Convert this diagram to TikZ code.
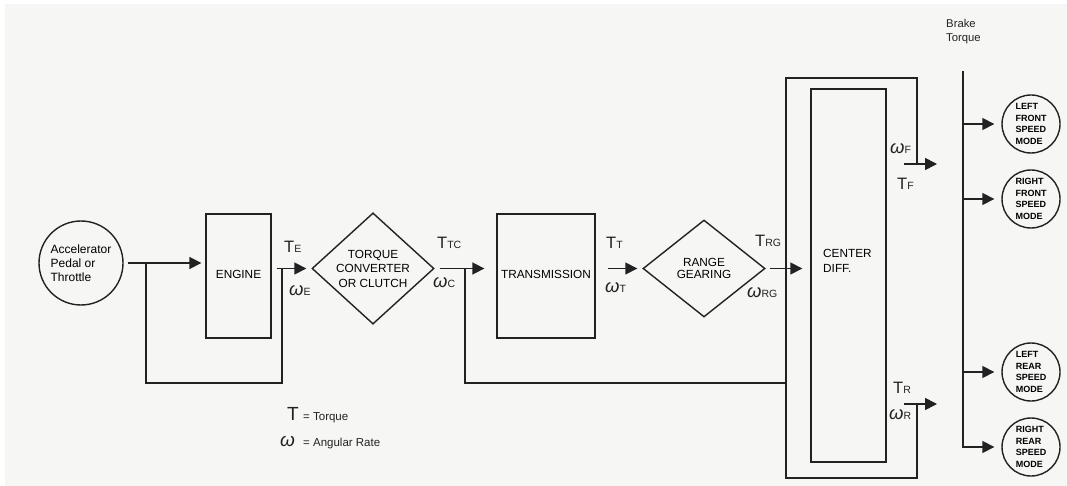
\documentclass[tikz,border=0pt]{standalone}
\usepackage{fontspec}
\setmainfont{Liberation Sans}
\usetikzlibrary{arrows.meta,shapes.geometric}
\definecolor{paper}{HTML}{F6F7F5}
\definecolor{ink}{HTML}{222222}

% signal labels: large symbol with a small capital suffix on the same baseline
\newcommand\sigT[1]{{\fontsize{16.5}{16}\selectfont T}{\fontsize{10.5}{10}\selectfont #1}}
\newcommand\sigW[1]{{\fontsize{18.5}{18}\selectfont\itshape ω}{\fontsize{10.5}{10}\selectfont #1}}

\begin{document}
\begin{tikzpicture}[x=1pt,y=-1pt,
  line/.style={ink, line width=1.6pt},
  arr/.style={line, -{Triangle[length=12pt,width=12pt]}},
  blockbox/.style={draw=ink, line width=1.3pt, rectangle, inner sep=0pt,
    font=\fontsize{11.8}{14}\selectfont},
  decide/.style={draw=ink, line width=1.4pt, diamond, inner sep=0pt,
    minimum width=122pt, minimum height=97pt, align=center,
    font=\fontsize{11.8}{14.5}\selectfont},
  wheel/.style={draw=ink, line width=1.4pt, circle, inner sep=0pt,
    minimum size=58pt, align=left,
    font=\fontsize{9}{11.7}\selectfont\bfseries},
  sig/.style={inner sep=0pt, anchor=base west, text=ink},
]
% page
\useasboundingbox (0,0) rectangle (1067,486);
\fill[white] (0,0) rectangle (1067,486);
\fill[paper] (5,4) rectangle (1067,486);

% input and engine
\node[draw=ink, line width=1.4pt, circle, inner sep=0pt, minimum size=84pt,
  align=left, font=\fontsize{12}{14}\selectfont] (acc) at (81,263)
  {Accelerator\\Pedal or\\Throttle};
\node[blockbox, minimum width=65pt, minimum height=124pt] (engine) at (238.5,276)
  {\raisebox{4pt}{ENGINE}};

% torque converter, transmission, range gearing
\node[decide] (tc) at (373,268.5) {TORQUE\\CONVERTER\\OR CLUTCH};
\node[blockbox, minimum width=98pt, minimum height=124pt] (trans) at (546,276)
  {\raisebox{4pt}{TRANSMISSION}};
\node[decide] (rg) at (704,268.5) {\raisebox{-4pt}{\shortstack{RANGE\\[1pt]GEARING}}};

% center differential
\node[draw=ink, line width=1.4pt, rectangle, inner sep=0pt,
  minimum width=75pt, minimum height=373pt] (cd) at (848.5,275.5) {};
\node[inner sep=0pt, anchor=base west, align=left,
  font=\fontsize{11.8}{15}\selectfont] (cdtext) at (823,272) {CENTER\\DIFF.};
\coordinate (oFR) at (917,164);
\coordinate (oTR) at (917,78);
\coordinate (oTL) at (786,78);
\coordinate (oBL) at (786,478);
\coordinate (oBR) at (917,478);
\coordinate (oRR) at (917,404);
\draw[line] (oFR) -- (oTR) -- (oTL) -- (oBL) -- (oBR) -- (oRR);

% wheel speed modes
\node[wheel] (lf) at (1031,124) {LEFT\\FRONT\\SPEED\\MODE};
\node[wheel] (rf) at (1031,199) {RIGHT\\FRONT\\SPEED\\MODE};
\node[wheel] (lr) at (1031,372) {LEFT\\REAR\\SPEED\\MODE};
\node[wheel] (rr) at (1031,447) {RIGHT\\REAR\\SPEED\\MODE};
\node[inner sep=0pt, anchor=west, align=left, text=ink,
  font=\fontsize{11.3}{14}\selectfont] (brake) at (946,32) {Brake\\Torque};

% forward path
\draw[arr] ([xshift=4pt]acc.east) -- ([xshift=-4pt]engine.west |- acc.east);
\draw[arr] ([xshift=5pt]engine.east |- tc.west) -- ([xshift=-5pt]tc.west);
\draw[arr] ([xshift=19pt]tc.east) -- ([xshift=-12pt]trans.west |- tc.east);
\draw[line] ([xshift=5pt]tc.east) -- ([xshift=19pt]tc.east);
\draw[arr] ([xshift=12pt]trans.east |- rg.west) -- ([xshift=-5pt]rg.west);
\draw[arr] ([xshift=4pt]rg.east) -- ([xshift=-8pt]cd.west |- rg.east);
\draw[arr] ([xshift=-13pt]oFR) -- ([xshift=20pt]oFR);
\draw[arr] ([xshift=-13pt]oRR) -- ([xshift=20pt]oRR);

% feedback paths
\coordinate (fbbot) at (0,383);
\coordinate (fb1a) at (146,263);
\coordinate (fb1b) at (282,268.5);
\coordinate (fb2a) at (465,268.5);
\draw[line] (fb1a) |- (fb1b |- fbbot) -- (fb1b);
\draw[line] (fb2a) |- (oTL |- fbbot);

% brake torque bus
\coordinate (bTop) at (963,71);
\coordinate (bBot) at (bTop |- rr);
\draw[arr] (bTop) -- (bBot) -- ([xshift=-7pt]rr.west);
\draw[arr] (bTop |- lf) -- ([xshift=-7pt]lf.west);
\draw[arr] (bTop |- rf) -- ([xshift=-7pt]rf.west);
\draw[arr] (bTop |- lr) -- ([xshift=-7pt]lr.west);

% signal labels
\node[sig] (tE) at (284,252) {\sigT{E}};
\node[sig] (wE) at (289,295) {\sigW{E}};
\node[sig] (tTC) at (437,248) {\sigT{TC}};
\node[sig] (wC) at (433,287) {\sigW{C}};
\node[sig] (tT) at (606,248) {\sigT{T}};
\node[sig] (wT) at (605,292) {\sigW{T}};
\node[sig] (tRG) at (755,247) {\sigT{RG}};
\node[sig] (wRG) at (747,297) {\sigW{RG}};
\node[sig] (wF) at (890,154) {\sigW{F}};
\node[sig] (tF) at (897,190) {\sigT{F}};
\node[sig] (tR) at (893,393) {\sigT{R}};
\node[sig] (wR) at (889,419) {\sigW{R}};

% legend
\node[sig, font=\fontsize{19}{19}\selectfont] (legT) at (287,420) {T};
\node[sig, font=\fontsize{11.5}{12}\selectfont] (legTtxt) at (303,420) {= Torque};
\node[sig, font=\fontsize{19}{19}\selectfont\itshape] (legW) at (280,446) {ω};
\node[sig, font=\fontsize{11.5}{12}\selectfont] (legWtxt) at (303,446) {= Angular Rate};
\end{tikzpicture}
\end{document}
